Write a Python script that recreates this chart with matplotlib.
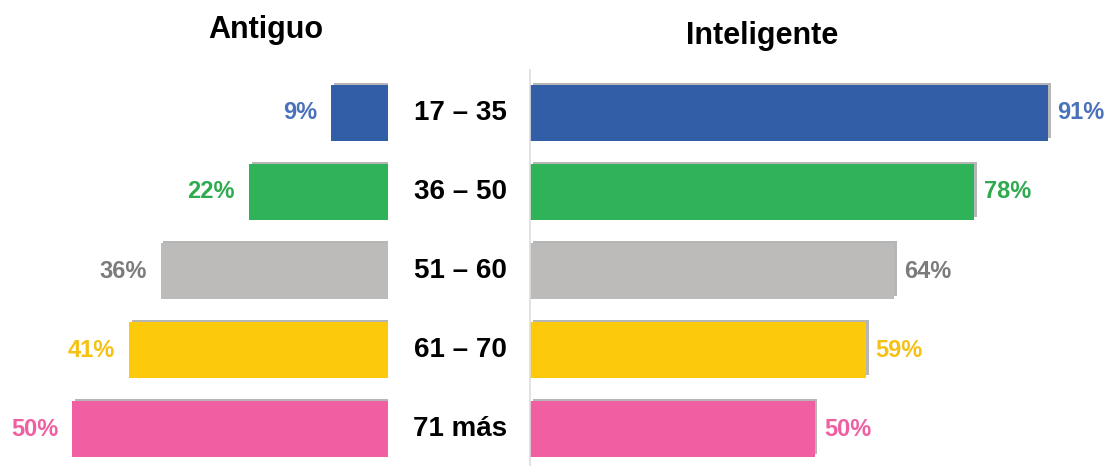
import matplotlib.pyplot as plt
import matplotlib.patheffects as pe

plt.rcParams['font.family'] = ['Liberation Sans', 'DejaVu Sans']

# data
age_groups = ["17 – 35", "36 – 50", "51 – 60", "61 – 70", "71 más"]
antiguo = [9, 22, 36, 41, 50]
inteligente = [91, 78, 64, 59, 50]

bar_colors = ["#315EA6", "#2EB358", "#BDBBBA", "#FCCA0A", "#EF5FA1"]
text_colors = ["#4A72BA", "#2EAA4F", "#7B7B7B", "#F6C114", "#EF5FA1"]

fig = plt.figure(figsize=(11.07, 4.66), dpi=100)
W, H = 1107, 466

# axes placement in pixels (left, bottom, width, height)
ax_bottom = 0
ax_height = 396 / H
ax_left = fig.add_axes([0, ax_bottom, 388 / W, ax_height])
ax_right = fig.add_axes([530 / W, ax_bottom, 577 / W, ax_height])

ypos = list(range(len(age_groups)))
shadow = [pe.SimplePatchShadow(offset=(2, 2), shadow_rgbFace="#6e6e6e", alpha=0.5), pe.Normal()]

bars_l = ax_left.barh(ypos, antiguo, height=0.70, color=bar_colors)
bars_r = ax_right.barh(ypos, inteligente, height=0.70, color=bar_colors)
for b in list(bars_l) + list(bars_r):
    b.set_path_effects(shadow)

ax_left.set_xlim(61.4, 0)
ax_right.set_xlim(0, 101.4)
for ax in (ax_left, ax_right):
    ax.set_ylim(4.468, -0.544)
    ax.set_xticks([])
    ax.set_yticks([])
    for s in ax.spines.values():
        s.set_visible(False)
ax_right.spines["left"].set_visible(True)
ax_right.spines["left"].set_color("#DDDDDD")
ax_right.spines["left"].set_linewidth(1.2)

for i, v in enumerate(antiguo):
    ax_left.annotate(f"{v}%", (v, i), xytext=(-10, 0), textcoords="offset points",
                     ha="right", va="center", fontsize=17, fontweight="bold",
                     color=text_colors[i])
for i, v in enumerate(inteligente):
    ax_right.annotate(f"{v}%", (v, i), xytext=(7, 0), textcoords="offset points",
                      ha="left", va="center", fontsize=17, fontweight="bold",
                      color=text_colors[i])

# category labels in the gap between the two panels
for i, g in enumerate(age_groups):
    ax_right.annotate(g, (0, i), xytext=(-70 * 72 / 100, 0), textcoords="offset points",
                      ha="center", va="center", fontsize=20, fontweight="bold",
                      color="black")

fig.text(266 / W, 1 - 30 / H, "Antiguo", ha="center", va="center",
         fontsize=22, fontweight="bold")
fig.text(762 / W, 1 - 36 / H, "Inteligente", ha="center", va="center",
         fontsize=22, fontweight="bold")

fig.savefig("out.png", dpi=100)
